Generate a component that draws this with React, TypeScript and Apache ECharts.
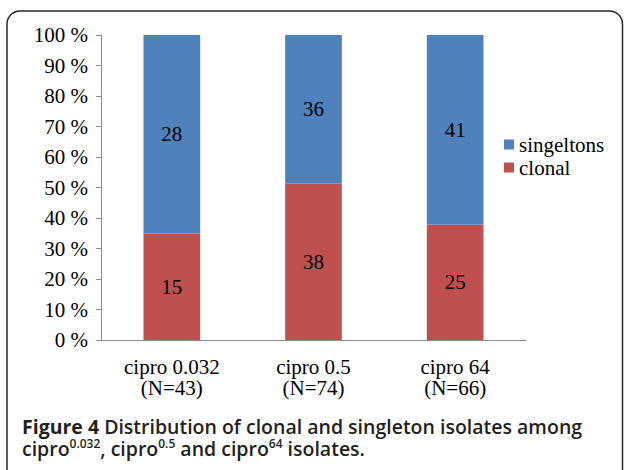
import React, { useEffect, useRef } from "react";
import * as echarts from "echarts";

const categories = ["cipro 0.032", "cipro 0.5", "cipro 64"];
const totalsN = [43, 74, 66];
const clonalCounts = [15, 38, 25];
const singletonCounts = [28, 36, 41];
const yTicks = [0, 10, 20, 30, 40, 50, 60, 70, 80, 90, 100];

const SERIF = "'Liberation Serif', 'Times New Roman', serif";
const SANS = "'Open Sans', 'Noto Sans', sans-serif";

export default function App() {
  const ref = useRef<HTMLDivElement>(null);
  useEffect(() => {
    if (!ref.current) return;
    const chart = echarts.init(ref.current, null, { renderer: "svg" });
    const xLabels = categories.map((c, i) => `${c}\n(N=${totalsN[i]})`);
    const pct = (arr: number[]) => arr.map((v, i) => (v / totalsN[i]) * 100);
    chart.setOption({
      animation: false,
      backgroundColor: "#ffffff",
      grid: { left: 101, right: 98, top: 35, bottom: 130, containLabel: false },
      legend: {
        orient: "vertical",
        left: 499,
        top: 129,
        itemWidth: 10,
        itemHeight: 10,
        itemGap: 2,
        icon: "rect",
        data: ["singeltons", "clonal"],
        textStyle: { fontFamily: SERIF, fontSize: 21, color: "#000" },
      },
      xAxis: {
        type: "category",
        data: xLabels,
        axisLine: { lineStyle: { color: "#8c8c8c", width: 1 } },
        axisTick: { length: 5, lineStyle: { color: "#8c8c8c" } },
        axisLabel: {
          fontFamily: SERIF,
          fontSize: 21,
          lineHeight: 21,
          color: "#000",
          margin: 16,
          interval: 0,
        },
      },
      yAxis: {
        type: "value",
        min: yTicks[0],
        max: yTicks[yTicks.length - 1],
        interval: 10,
        splitLine: { show: false },
        axisLine: { show: true, lineStyle: { color: "#8c8c8c", width: 1 } },
        axisTick: { show: true, length: 5, lineStyle: { color: "#8c8c8c" } },
        axisLabel: {
          fontFamily: SERIF,
          fontSize: 21,
          color: "#000",
          margin: 13,
          formatter: "{value} %",
        },
      },
      series: [
        {
          name: "clonal",
          type: "bar",
          stack: "total",
          barCategoryGap: "60%",
          data: pct(clonalCounts),
          itemStyle: { color: "#C0504D" },
          label: {
            show: true,
            position: "inside",
            fontFamily: SERIF,
            fontSize: 21,
            color: "#000",
            formatter: (p: any) => String(clonalCounts[p.dataIndex]),
          },
        },
        {
          name: "singeltons",
          type: "bar",
          stack: "total",
          barCategoryGap: "60%",
          data: pct(singletonCounts),
          itemStyle: { color: "#4F81BD" },
          label: {
            show: true,
            position: "inside",
            fontFamily: SERIF,
            fontSize: 21,
            color: "#000",
            formatter: (p: any) => String(singletonCounts[p.dataIndex]),
          },
        },
      ],
      graphic: [
        {
          type: "rect",
          shape: { x: 7, y: 11, width: 615.5, height: 500, r: 13 },
          style: { fill: "none", stroke: "#2a2a2a", lineWidth: 1.5 },
          silent: true,
        },
        {
          type: "text",
          left: 22,
          top: 416,
          style: {
            text:
              "{b|Figure 4 }{n|Distribution of clonal and singleton isolates among}\n" +
              "{n|cipro}{s|0.032}{n|, cipro}{s|0.5}{n| and cipro}{s|64}{n| isolates.}",
            fill: "#231f20",
            rich: {
              b: { fontFamily: SANS, fontSize: 19.5, fontWeight: "bold", fill: "#231f20", lineHeight: 22 },
              n: { fontFamily: SANS, fontSize: 19.5, fontWeight: 600, fill: "#231f20", lineHeight: 22 },
              s: { fontFamily: SANS, fontSize: 12, fontWeight: 600, fill: "#231f20", lineHeight: 9, verticalAlign: "top" },
            },
          },
        },
      ],
    });
    return () => chart.dispose();
  }, []);
  return (
    <div
      ref={ref}
      style={{ position: "fixed", left: 0, top: 0, width: 624, height: 470, background: "#fff" }}
    />
  );
}
